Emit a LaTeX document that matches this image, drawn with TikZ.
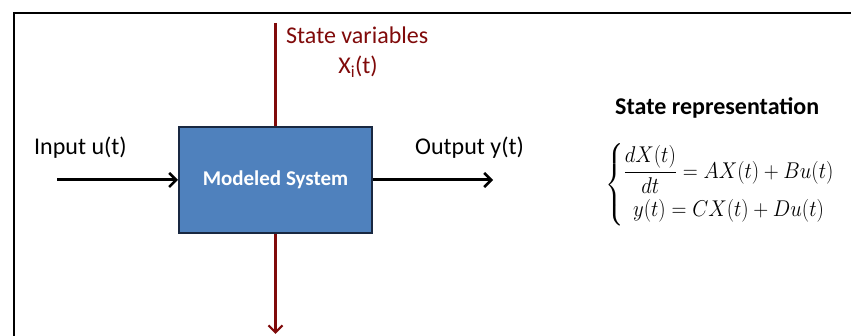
\documentclass[tikz,border=0pt]{standalone}
\usepackage{fontspec}
\setmainfont{Carlito}
\usepackage{amsmath}
\usepackage{graphicx}
\usetikzlibrary{arrows.meta}
\definecolor{boxblue}{RGB}{79,129,189}
\definecolor{boxedge}{RGB}{25,40,65}
\definecolor{statered}{RGB}{128,10,10}
\begin{document}
\begin{tikzpicture}[x=1pt,y=1pt,
  flow/.style={line width=3pt,-{Straight Barb[length=7pt,width=14pt,line width=2.5pt]}},
  stateflow/.style={line width=2.6pt,draw=statered,-{Straight Barb[length=7pt,width=14pt,line width=2.2pt]}},
  lbl/.style={font=\fontsize{24}{26}\selectfont,inner sep=0pt}]
\useasboundingbox (0,0) rectangle (851,336);
\fill[white] (0,0) rectangle (851,336);
% outer frame
\draw[line width=2pt] (14,-5) -- (14,323) -- (860,323);
% system box
\node[draw=boxedge,line width=2pt,fill=boxblue,minimum width=193pt,minimum height=106pt,inner sep=0pt] (sys) at (275.5,156) {};
\node[font=\fontsize{21}{23}\selectfont\bfseries,text=white,inner sep=0pt] (syslbl) at (sys.center) {Modeled System};
% input / output
\coordinate (in) at (57,156);
\coordinate (out) at (493,156);
\draw[flow] (in) -- (sys.west);
\draw[flow] (sys.east) -- (out);
\node[lbl,anchor=west] (inlbl) at (34,188) {Input u(t)};
\node[lbl,anchor=west] (outlbl) at (415,188) {Output y(t)};
% state variables line
\coordinate (stop) at (275.5,313);
\coordinate (sbot) at (275.5,2);
\draw[line width=2.6pt,draw=statered] (stop) -- (sys.north);
\draw[stateflow] (sys.south) -- (sbot);
\node[lbl,text=statered,anchor=west] (svlbl) at (286,301) {State variables};
\node[lbl,text=statered] (xlbl) at (358,269) {X\textsubscript{i}(t)};
% state representation
\node[lbl,font=\fontsize{24}{26}\selectfont\bfseries,anchor=west] (srlbl) at (615,228) {State representation};
\node[inner sep=0pt,anchor=west] (eqs) at (605,151)
 {\scalebox{1}[1.1]{\fontsize{22}{24}\selectfont$\left\{\begin{array}{@{}c@{}}\dfrac{dX(t)}{dt}=AX(t)+Bu(t)\\[11pt] y(t)=CX(t)+Du(t)\end{array}\right.$}};
\end{tikzpicture}
\end{document}
